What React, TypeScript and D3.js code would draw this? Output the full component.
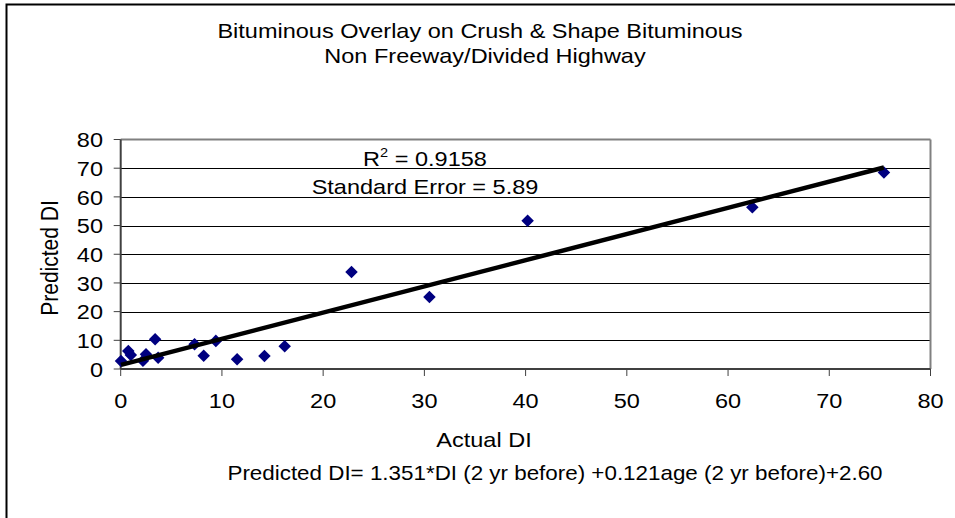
import React from "react";
import * as d3 from "d3";

const actualDI = [0.03, 0.75, 1.0, 2.2, 2.5, 3.4, 3.7, 7.3, 8.2, 9.4, 11.5, 14.2, 16.2, 22.8, 30.5, 40.2, 62.4, 75.4];
const predictedDI = [2.8, 6.3, 4.9, 2.9, 5.1, 10.4, 3.9, 8.6, 4.6, 9.8, 3.4, 4.5, 7.9, 33.8, 25.1, 51.7, 56.4, 68.5];
const trendIntercept = 1.4;
const trendSlope = 0.913;
const xTicks = [0, 10, 20, 30, 40, 50, 60, 70, 80];
const yTicks = [0, 10, 20, 30, 40, 50, 60, 70, 80];
const titleLines = ["Bituminous Overlay on Crush & Shape Bituminous", "Non Freeway/Divided Highway"];

const W = 955, H = 518;
const PL = 120.7, PR = 930.5, PT = 139.5, PB = 369;
const FONT = "'Liberation Sans', Arial, sans-serif";
const SX = 1.12;
const FS = 21;

function T({ x, y, anchor = "middle", size = FS, children }: any) {
  return (
    <text transform={`translate(${x},${y}) scale(${SX},1)`} textAnchor={anchor} fontSize={size} fill="#000">
      {children}
    </text>
  );
}

export default function App() {
  const x = d3.scaleLinear().domain([0, 80]).range([PL, PR]);
  const y = d3.scaleLinear().domain([0, 80]).range([PB, PT]);
  const xMin = d3.min(actualDI)!;
  const xMax = d3.max(actualDI)!;
  const line = d3.line<number>().x((d) => x(d)).y((d) => y(trendIntercept + trendSlope * d));
  const diamond = d3.symbol().type(d3.symbolDiamond2).size(100)()!;
  return (
    <svg width={W} height={H} style={{ position: "absolute", left: 0, top: 0, background: "#fff" }} fontFamily={FONT}>
      <rect x={6.5} y={4.5} width={W + 10} height={H + 10} fill="#fff" stroke="#000" strokeWidth={2} />
      <T x={480} y={38}>{titleLines[0]}</T>
      <T x={485} y={63}>{titleLines[1]}</T>
      {yTicks.slice(1, -1).map((v) => (
        <line key={v} x1={PL} x2={PR} y1={Math.round(y(v)) + 0.5} y2={Math.round(y(v)) + 0.5} stroke="#000" strokeWidth={1} />
      ))}
      <line x1={PL} x2={PR} y1={PT} y2={PT} stroke="#808080" strokeWidth={2} />
      <line x1={PR} x2={PR} y1={PT} y2={PB} stroke="#808080" strokeWidth={2} />
      <line x1={PL} x2={PL} y1={PT} y2={PB} stroke="#404040" strokeWidth={2} />
      <line x1={PL} x2={PR} y1={PB} y2={PB} stroke="#404040" strokeWidth={2} />
      {yTicks.map((v) => (
        <g key={v}>
          <line x1={PL - 7} x2={PL} y1={y(v)} y2={y(v)} stroke="#404040" strokeWidth={1} />
          <T x={103} y={y(v) + 7.7} anchor="end">{v}</T>
        </g>
      ))}
      {xTicks.map((v) => (
        <g key={v}>
          <line x1={x(v)} x2={x(v)} y1={PB} y2={PB + 7} stroke="#404040" strokeWidth={1} />
          <T x={x(v)} y={PB + 39}>{v}</T>
        </g>
      ))}
      {actualDI.map((d, i) => (
        <path key={i} d={diamond} transform={`translate(${x(d)},${y(predictedDI[i])})`} fill="#000080" />
      ))}
      <path d={line([xMin, xMax])!} stroke="#000" strokeWidth={4.5} fill="none" />
      <T x={425} y={166}>
        R<tspan dy={-9} fontSize={13}>2</tspan><tspan dy={9}> = 0.9158</tspan>
      </T>
      <T x={425} y={194}>Standard Error = 5.89</T>
      <T x={484} y={447}>Actual DI</T>
      <T x={555} y={480} size={20}>Predicted DI= 1.351*DI (2 yr before) +0.121age (2 yr before)+2.60</T>
      <text transform={`translate(58,258) rotate(-90) scale(1,${SX})`} textAnchor="middle" fontSize={FS}>Predicted DI</text>
    </svg>
  );
}
